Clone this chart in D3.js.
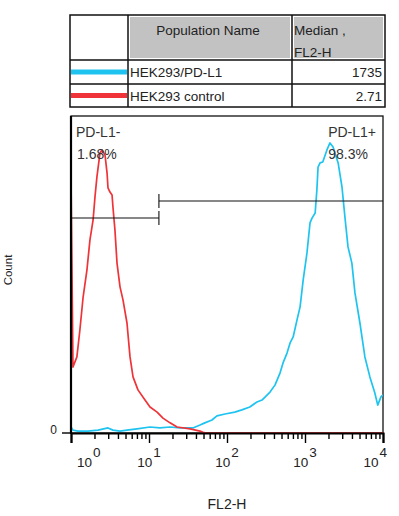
<!DOCTYPE html>
<html>
<head>
<meta charset="utf-8">
<script src="https://cdn.jsdelivr.net/npm/d3@7"></script>
<style>
  body { margin: 0; background: #fff; }
  text { font-family: "Liberation Sans", Arial, sans-serif; fill: #222; }
</style>
</head>
<body>
<svg id="chart" width="399" height="516"></svg>
<script>
// populations shown in the table
var popNames = ["HEK293/PD-L1", "HEK293 control"];
var popMedians = ["1735", "2.71"];
var popColors = ["#1ec4ef", "#ef3338"];

// histogram for HEK293/PD-L1 (FL2-H value, count)
var pdl1FL2 = [1.00, 1.06, 1.23, 1.65, 2.22, 2.98, 3.45, 4.25, 5.22, 7.01, 10.3, 13.8, 18.6, 24.9, 36.6,
  45.1, 52.0, 64.2, 74.3, 94.1, 126, 155, 196, 242, 281, 356, 412, 478, 523, 588, 644, 705, 790, 865,
  948, 1060, 1160, 1230, 1350, 1420, 1470, 1560, 1690, 1910, 2090, 2290, 2660, 2980, 3250, 3560, 3990,
  4370, 5060, 5860, 6790, 7860, 8560, 9410, 10000];
var pdl1Count = [1.9, 0.9, 0.6, 0.6, 0.9, 1.6, 0.9, 0.6, 0.9, 1.3, 1.9, 1.6, 1.9, 1.6, 1.6,
  2.5, 3.2, 4.1, 5.4, 6.0, 6.6, 7.3, 8.2, 9.8, 10.4, 12.9, 15.1, 18.9, 22.1, 25.2, 28.4, 30.3, 35.7, 39.8,
  48.3, 56.8, 66.3, 67.8, 69.4, 76.7, 83.9, 85.2, 85.5, 89.3, 91.5, 90.2, 85.2, 77.6, 68.1, 58.7, 53.6,
  44.2, 34.7, 24.0, 17.7, 12.6, 8.8, 11.4, 12.0];

// histogram for HEK293 control
var ctrlFL2 = [1.00, 1.06, 1.19, 1.30, 1.43, 1.60, 1.75, 1.92, 2.03, 2.15, 2.29, 2.35, 2.50, 2.73, 2.90,
  2.98, 3.16, 3.36, 3.45, 3.66, 3.89, 4.25, 4.64, 5.22, 5.71, 6.24, 7.22, 8.89, 10.3, 12.7, 15.1, 18.6,
  22.9, 33.6, 45.1, 49.2, 53.8, 10000];
var ctrlCount = [80.8, 20.8, 24.0, 32.5, 42.9, 51.4, 60.9, 67.2, 74.5, 80.8, 86.1, 88.3, 89.3, 87.7, 82.0,
  77.3, 76.0, 75.1, 71.3, 64.0, 53.6, 46.1, 42.0, 34.7, 24.0, 17.7, 13.6, 10.4, 8.2, 6.6, 4.7, 3.2,
  1.9, 1.3, 0.6, 0.2, 0, 0];

// gates
var gateNames = ["PD-L1-", "PD-L1+"];
var gatePcts = ["1.68%", "98.3%"];
var gateLo = [1, 13.4];
var gateHi = [13.4, 10000];
var gateLevel = [67.8, 73.2];

// axis ticks
var majorTicks = [1, 10, 100, 1000, 10000];
var majorExp = ["0", "1", "2", "3", "4"];
var minorTicks = [];
for (var d = 1; d < 10000; d *= 10) {
  for (var k = 2; k <= 9; k++) minorTicks.push(d * k);
}

var svg = d3.select("#chart");

// ---- table ----
var tbl = svg.append("g");
var colX = [70, 128, 292, 385];
var rowY = [15, 60, 84, 107];

tbl.append("rect").attr("x", 130).attr("y", 17).attr("width", 160).attr("height", 41).attr("fill", "#c2c2c2");
tbl.append("rect").attr("x", 294).attr("y", 17).attr("width", 89).attr("height", 41).attr("fill", "#c2c2c2");

tbl.append("rect")
  .attr("x", colX[0]).attr("y", rowY[0])
  .attr("width", colX[3] - colX[0]).attr("height", rowY[3] - rowY[0])
  .attr("fill", "none").attr("stroke", "#111").attr("stroke-width", 1.5);
[1, 2].forEach(function(i) {
  tbl.append("line").attr("x1", colX[i]).attr("x2", colX[i]).attr("y1", rowY[0]).attr("y2", rowY[3])
    .attr("stroke", "#111").attr("stroke-width", 1.5);
});
[1, 2].forEach(function(i) {
  tbl.append("line").attr("x1", colX[0]).attr("x2", colX[3]).attr("y1", rowY[i]).attr("y2", rowY[i])
    .attr("stroke", "#111").attr("stroke-width", 1.5);
});

tbl.append("text").attr("x", 208).attr("y", 35).attr("text-anchor", "middle")
  .style("font-size", "13.5px").text("Population Name");
tbl.append("text").attr("x", 294).attr("y", 35).style("font-size", "13.5px").text("Median ,");
tbl.append("text").attr("x", 294).attr("y", 57).style("font-size", "13.5px").text("FL2-H");

popNames.forEach(function(name, i) {
  var cy = (rowY[i + 1] + rowY[i + 2]) / 2;
  tbl.append("line").attr("x1", 71).attr("x2", 127).attr("y1", cy).attr("y2", cy)
    .attr("stroke", popColors[i]).attr("stroke-width", 5);
  tbl.append("text").attr("x", 130).attr("y", cy + 5).style("font-size", "13.5px").text(name);
  tbl.append("text").attr("x", 382).attr("y", cy + 5).attr("text-anchor", "end")
    .style("font-size", "13.5px").text(popMedians[i]);
});

// ---- histogram ----
var x = d3.scaleLog().domain([1, 10000]).range([71, 383]);
var y = d3.scaleLinear().domain([0, 100]).range([433, 116]);

svg.append("defs").append("clipPath").attr("id", "plotclip")
  .append("rect").attr("x", 71).attr("y", 116).attr("width", 312).attr("height", 317);

svg.append("rect").attr("x", 71).attr("y", 116).attr("width", 312).attr("height", 317)
  .attr("fill", "none").attr("stroke", "#111").attr("stroke-width", 1.3);

var line = d3.line()
  .x(function(d) { return x(d[0]); })
  .y(function(d) { return y(d[1]); });

var series = [d3.zip(pdl1FL2, pdl1Count), d3.zip(ctrlFL2, ctrlCount)];
// red drawn last so it lies on top along the baseline
svg.append("g").attr("clip-path", "url(#plotclip)")
  .selectAll("path")
  .data([0, 1])
  .enter().append("path")
  .attr("d", function(i) { return line(series[i]); })
  .attr("fill", "none")
  .attr("stroke", function(i) { return popColors[i]; })
  .attr("stroke-width", 1.7)
  .attr("stroke-linejoin", "round");

// gates
gateNames.forEach(function(name, i) {
  var gy = y(gateLevel[i]);
  var g = svg.append("g");
  g.append("line").attr("x1", x(gateLo[i])).attr("x2", x(gateHi[i])).attr("y1", gy).attr("y2", gy)
    .attr("stroke", "#111").attr("stroke-width", 1.1);
  [gateLo[i], gateHi[i]].forEach(function(v) {
    if (v == 1 || v == 10000) return;
    g.append("line").attr("x1", x(v)).attr("x2", x(v)).attr("y1", gy - 7).attr("y2", gy + 7)
      .attr("stroke", "#111").attr("stroke-width", 1.1);
  });
});
svg.append("text").attr("x", 76).attr("y", 137).style("font-size", "14px").style("fill", "#333").text(gateNames[0]);
svg.append("text").attr("x", 77).attr("y", 159).style("font-size", "14px").style("fill", "#333").text(gatePcts[0]);
svg.append("text").attr("x", 376).attr("y", 137).attr("text-anchor", "end").style("font-size", "14px").style("fill", "#333").text(gateNames[1]);
svg.append("text").attr("x", 368).attr("y", 159).attr("text-anchor", "end").style("font-size", "14px").style("fill", "#333").text(gatePcts[1]);

// x axis: major and minor ticks
var axisG = svg.append("g").attr("transform", "translate(0,433)");
axisG.call(d3.axisBottom(x).tickValues(majorTicks).tickSize(10).tickFormat(""));
axisG.append("g").call(d3.axisBottom(x).tickValues(minorTicks).tickSize(6).tickFormat(""))
  .select(".domain").remove();
axisG.selectAll(".domain").attr("stroke", "#000").attr("stroke-width", 2.2);
axisG.selectAll(".tick line").attr("stroke", "#000").attr("stroke-width", 1.4);

majorTicks.forEach(function(v, i) {
  var anchor = "middle", dx = 0;
  if (i == 0) { anchor = "start"; dx = 6; }
  if (i == majorTicks.length - 1) { anchor = "end"; dx = 4; }
  var t = svg.append("text").attr("x", x(v) + dx).attr("y", 467).attr("text-anchor", anchor)
    .style("font-size", "13.5px");
  t.append("tspan").text("10");
  t.append("tspan").attr("dy", -10).attr("dx", 1).style("font-size", "13.5px").text(majorExp[i]);
});

// y axis
svg.append("line").attr("x1", 71).attr("x2", 71).attr("y1", 116).attr("y2", 434)
  .attr("stroke", "#000").attr("stroke-width", 2.2);
svg.append("line").attr("x1", 62).attr("x2", 71).attr("y1", y(0)).attr("y2", y(0))
  .attr("stroke", "#000").attr("stroke-width", 1.4);
svg.append("text").attr("x", 57).attr("y", y(0) + 1).attr("text-anchor", "end")
  .style("font-size", "12px").text("0");

svg.append("text").attr("transform", "translate(12,270) rotate(-90)").attr("text-anchor", "middle")
  .style("font-size", "11.5px").text("Count");
svg.append("text").attr("x", 227).attr("y", 509).attr("text-anchor", "middle")
  .style("font-size", "14px").text("FL2-H");
</script>
</body>
</html>
